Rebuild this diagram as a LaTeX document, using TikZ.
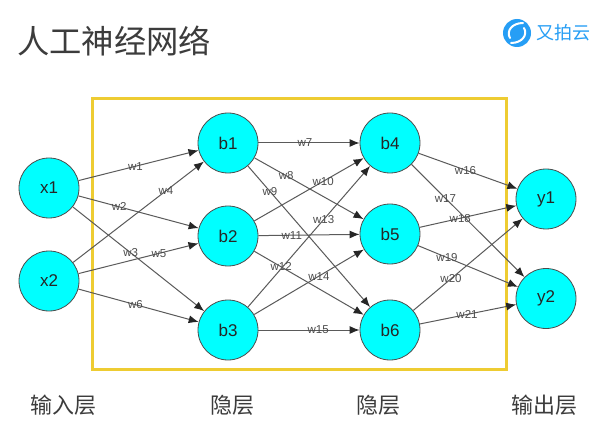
\documentclass[tikz,border=0pt]{standalone}
\usepackage{fontspec}
\setmainfont{Liberation Sans}
\newfontfamily\cjk{Noto Sans CJK SC}
\usetikzlibrary{arrows.meta}
\definecolor{framey}{RGB}{238,204,50}
\definecolor{logob}{RGB}{38,158,245}
\definecolor{titleg}{RGB}{60,60,60}
\definecolor{edgeg}{RGB}{90,90,90}
\definecolor{aqua}{RGB}{0,255,255}
\tikzset{
  neuron/.style={circle,draw=black!70,line width=.8pt,fill=aqua,minimum size=60pt,inner sep=0pt,font=\fontsize{17}{19}\selectfont,text=black!85},
  conn/.style={draw=edgeg,line width=1pt,-{Latex[length=10pt,width=8pt,color=black!85]}},
  wl/.style={font=\fontsize{11.5}{13}\selectfont,text=black!70,inner sep=0pt},
  layerlab/.style={font=\cjk\fontsize{22}{24}\selectfont,text=titleg,inner sep=0pt}
}
\begin{document}
\begin{tikzpicture}[x=1pt,y=-1pt]
\useasboundingbox (0,0) rectangle (594,422);
\fill[white] (0,0) rectangle (594,422);
\node[font=\cjk\fontsize{32.3}{36}\selectfont,text=titleg,anchor=west,inner sep=0pt] (title) at (17,41) {人工神经网络};
% logo
\fill[logob] (517,33) circle (14);
\draw[white,line width=2pt,line cap=round] (523,23) .. controls (512,23) and (506,31) .. (510,38);
\draw[white,line width=2pt,line cap=round] (511,43) .. controls (522,43) and (528,35) .. (524,28);
\node[font=\cjk\fontsize{18}{20}\selectfont,text=logob,anchor=west,inner sep=0pt] (logo) at (536,33) {又拍云};
% frame
\draw[framey,line width=3pt] (92,99) rectangle (506.5,369.5);
% neurons
\node[neuron] (x1) at (49,188) {x1};
\node[neuron] (x2) at (49,281) {x2};
\node[neuron] (b1) at (228,143) {b1};
\node[neuron] (b2) at (228,236) {b2};
\node[neuron] (b3) at (228,330) {b3};
\node[neuron] (b4) at (390,143) {b4};
\node[neuron] (b5) at (390,234) {b5};
\node[neuron] (b6) at (390,330) {b6};
\node[neuron] (y1) at (546,199) {y1};
\node[neuron] (y2) at (546,298.5) {y2};
% connectors
\draw[conn] (x1) -- node[wl,pos=.475] (w1) {w1} (b1);
\draw[conn] (x1) -- node[wl,pos=.34] (w2) {w2} (b2);
\draw[conn] (x1) -- node[wl,pos=.44] (w3) {w3} (b3);
\draw[conn] (x2) -- node[wl,pos=.71] (w4) {w4} (b1);
\draw[conn] (x2) -- node[wl,pos=.67] (w5) {w5} (b2);
\draw[conn] (x2) -- node[wl,pos=.475] (w6) {w6} (b3);
\draw[conn] (b1) -- node[wl,pos=.46] (w7) {w7} (b4);
\draw[conn] (b1) -- node[wl,pos=.29] (w8) {w8} (b5);
\draw[conn] (b1) -- node[wl,pos=.18] (w9) {w9} (b6);
\draw[conn] (b2) -- node[wl,pos=.63] (w10) {w10} (b4);
\draw[conn] (b2) -- node[wl,pos=.33] (w11) {w11} (b5);
\draw[conn] (b2) -- node[wl,pos=.245] (w12) {w12} (b6);
\draw[conn] (b3) -- node[wl,pos=.62] (w13) {w13} (b4);
\draw[conn] (b3) -- node[wl,pos=.59] (w14) {w14} (b5);
\draw[conn] (b3) -- node[wl,pos=.59] (w15) {w15} (b6);
\draw[conn] (b4) -- node[wl,pos=.475] (w16) {w16} (y1);
\draw[conn] (b4) -- node[wl,pos=.3] (w17) {w17} (y2);
\draw[conn] (b5) -- node[wl,pos=.42] (w18) {w18} (y1);
\draw[conn] (b5) -- node[wl,pos=.29] (w19) {w19} (y2);
\draw[conn] (b6) -- node[wl,pos=.345] (w20) {w20} (y1);
\draw[conn] (b6) -- node[wl,pos=.49] (w21) {w21} (y2);
% layer labels
\node[layerlab] (l1) at (63.5,405) {输入层};
\node[layerlab] (l2) at (232.5,405) {隐层};
\node[layerlab] (l3) at (378.5,405) {隐层};
\node[layerlab] (l4) at (544.5,405) {输出层};
\end{tikzpicture}
\end{document}
